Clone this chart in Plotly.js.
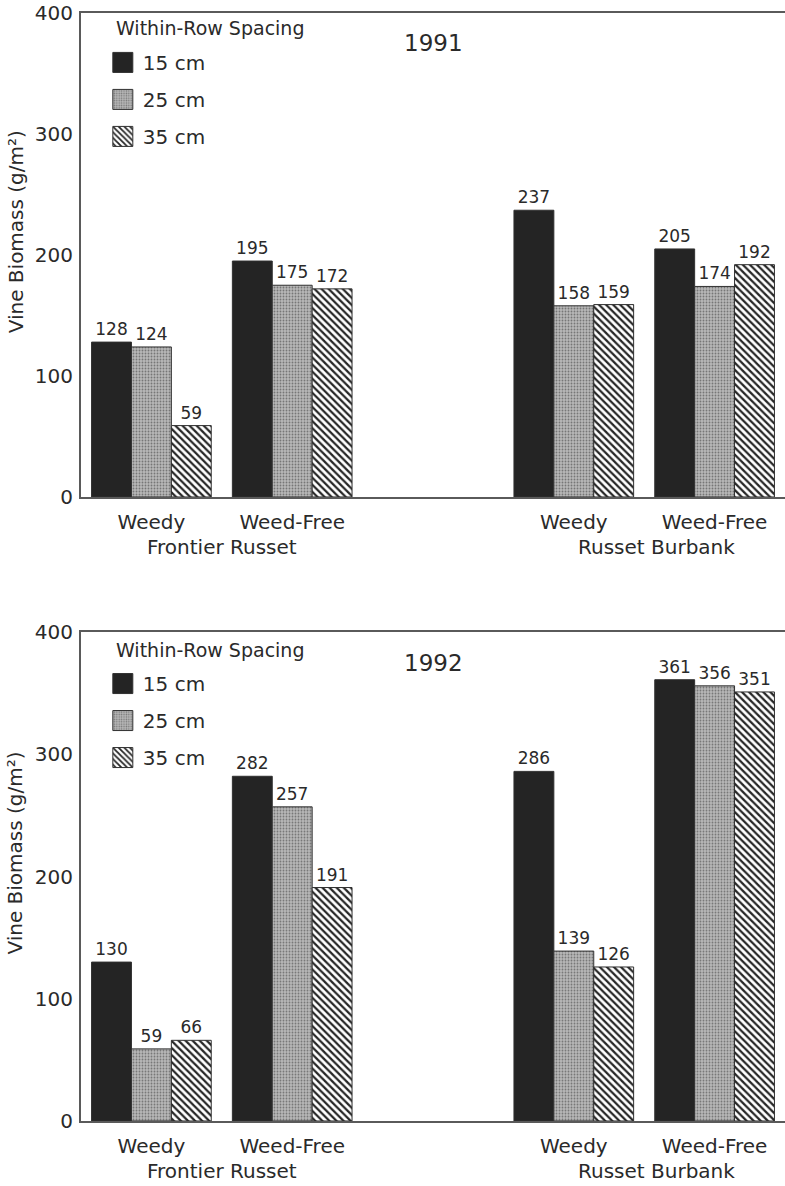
<!DOCTYPE html>
<html>
<head>
<meta charset="utf-8">
<script src="https://cdn.plot.ly/plotly-3.0.1.min.js"></script>
<style>
html,body{margin:0;padding:0;background:#fff;overflow:hidden;}
#chart{width:785px;height:1186px;}
</style>
</head>
<body>
<div id="chart"></div>
<script>
// ---- data ----
const cultivars = ['Frontier Russet', 'Russet Burbank'];
const treatments = ['Weedy', 'Weed-Free'];
const spacings = ['15 cm', '25 cm', '35 cm'];
const years = ['1991', '1992'];
// values per spacing: order = FR Weedy, FR Weed-Free, RB Weedy, RB Weed-Free
const y1991_15 = [128, 195, 237, 205];
const y1991_25 = [124, 175, 158, 174];
const y1991_35 = [59, 172, 159, 192];
const y1992_15 = [130, 282, 286, 361];
const y1992_25 = [59, 257, 139, 356];
const y1992_35 = [66, 191, 126, 351];
const yTicks = [0, 100, 200, 300, 400];
const yTitle = 'Vine Biomass (g/m²)';
const legendTitle = 'Within-Row Spacing';

// ---- build ----
const FONT = 'DejaVu Sans, Liberation Sans, Arial, sans-serif';
const INK = '#2a2a2a';
const xpos = [];
const xtext = [];
cultivars.forEach((c, ci) => treatments.forEach((t, ti) => { xpos.push(ci * 3 + ti); xtext.push(t); }));

const styles = [
  {color: '#242424', pattern: {shape: ''}},
  {color: '#b4b4b4', pattern: {shape: '.', bgcolor: '#b8b8b8', fgcolor: '#767676', size: 3, solidity: 0.3}},
  {color: '#ffffff', pattern: {shape: '\\', bgcolor: '#ffffff', fgcolor: '#262626', size: 5, solidity: 0.45}}
];

const series = [[y1991_15, y1991_25, y1991_35], [y1992_15, y1992_25, y1992_35]];
const traces = [];
series.forEach((yr, yi) => {
  yr.forEach((vals, si) => {
    traces.push({
      type: 'bar',
      x: xpos,
      y: vals,
      name: spacings[si],
      xaxis: yi === 0 ? 'x' : 'x2',
      yaxis: yi === 0 ? 'y' : 'y2',
      legend: yi === 0 ? 'legend' : 'legend2',
      legendgroup: 'g' + yi + si,
      text: vals.map(String),
      textposition: 'outside',
      constraintext: 'none',
      cliponaxis: false,
      textfont: {family: FONT, size: 17, color: INK},
      marker: {color: styles[si].color, pattern: styles[si].pattern, line: {color: '#303030', width: 1}},
      hoverinfo: 'x+y'
    });
  });
});

function xax(anchor) {
  return {
    anchor: anchor, domain: [0, 1], range: [-0.5, 4.5],
    tickmode: 'array', tickvals: xpos, ticktext: xtext,
    ticks: '', showgrid: false, zeroline: false,
    showline: true, mirror: true, linecolor: '#5a5a5a', linewidth: 2,
    tickfont: {family: FONT, size: 20, color: INK},
    ticklabelstandoff: 6, fixedrange: true
  };
}
function yax(anchor, domain) {
  return {
    anchor: anchor, domain: domain, range: [0, 400],
    tickmode: 'array', tickvals: yTicks, ticks: '', showgrid: false, zeroline: false,
    showline: true, linecolor: '#5a5a5a', linewidth: 2,
    tickfont: {family: FONT, size: 20, color: INK}, ticklabelstandoff: 2, fixedrange: true
  };
}
function leg(y) {
  return {
    x: 0.031, y: y, xanchor: 'left', yanchor: 'top',
    bgcolor: 'rgba(0,0,0,0)', borderwidth: 0,
    font: {family: FONT, size: 20, color: INK},
    tracegroupgap: 8, traceorder: 'grouped', itemclick: false, itemdoubleclick: false
  };
}

const annotations = [];
const titleY = [0.969, 0.963];
[['x', 'y'], ['x2', 'y2']].forEach((ax, yi) => {
  annotations.push({xref: 'paper', yref: ax[1] + ' domain', x: 0.501, y: 0.937, text: years[yi], showarrow: false,
    xanchor: 'center', yanchor: 'middle', font: {family: FONT, size: 23, color: INK}});
  annotations.push({xref: 'paper', yref: ax[1] + ' domain', x: 0.047, y: titleY[yi], text: legendTitle, showarrow: false,
    xanchor: 'left', yanchor: 'middle', font: {family: FONT, size: 19, color: INK}});
  annotations.push({xref: 'paper', yref: ax[1] + ' domain', x: -0.093, y: 0.548, text: yTitle, textangle: -90, showarrow: false,
    xanchor: 'center', yanchor: 'middle', font: {family: FONT, size: 20, color: INK}});
  cultivars.forEach((c, ci) => {
    annotations.push({xref: ax[0], yref: ax[1] + ' domain', x: ci * 3 + 0.5, xshift: ci === 1 ? 12 : 0, y: -0.103,
      text: c, showarrow: false, xanchor: 'center', yanchor: 'middle', font: {family: FONT, size: 20, color: INK}});
  });
});

const layout = {
  width: 785, height: 1186,
  margin: {l: 81, r: 0, t: 13, b: 65},
  paper_bgcolor: '#ffffff', plot_bgcolor: '#ffffff',
  barmode: 'group', bargap: 0.15, bargroupgap: 0,
  xaxis: xax('y'), yaxis: yax('x', [0.5632, 1]),
  xaxis2: xax('y2'), yaxis2: yax('x2', [0, 0.4413]),
  legend: leg(0.973), legend2: leg(0.4124),
  annotations: annotations,
  showlegend: true,
  font: {family: FONT, color: INK}
};

Plotly.newPlot('chart', traces, layout, {displayModeBar: false, staticPlot: true}).then(gd => {
  // enlarge legend swatches to match the reference's bigger boxes
  gd.querySelectorAll('.legendpoints path').forEach(p => p.setAttribute('d', 'M10,10H-10V-10H10Z'));
});
</script>
</body>
</html>
